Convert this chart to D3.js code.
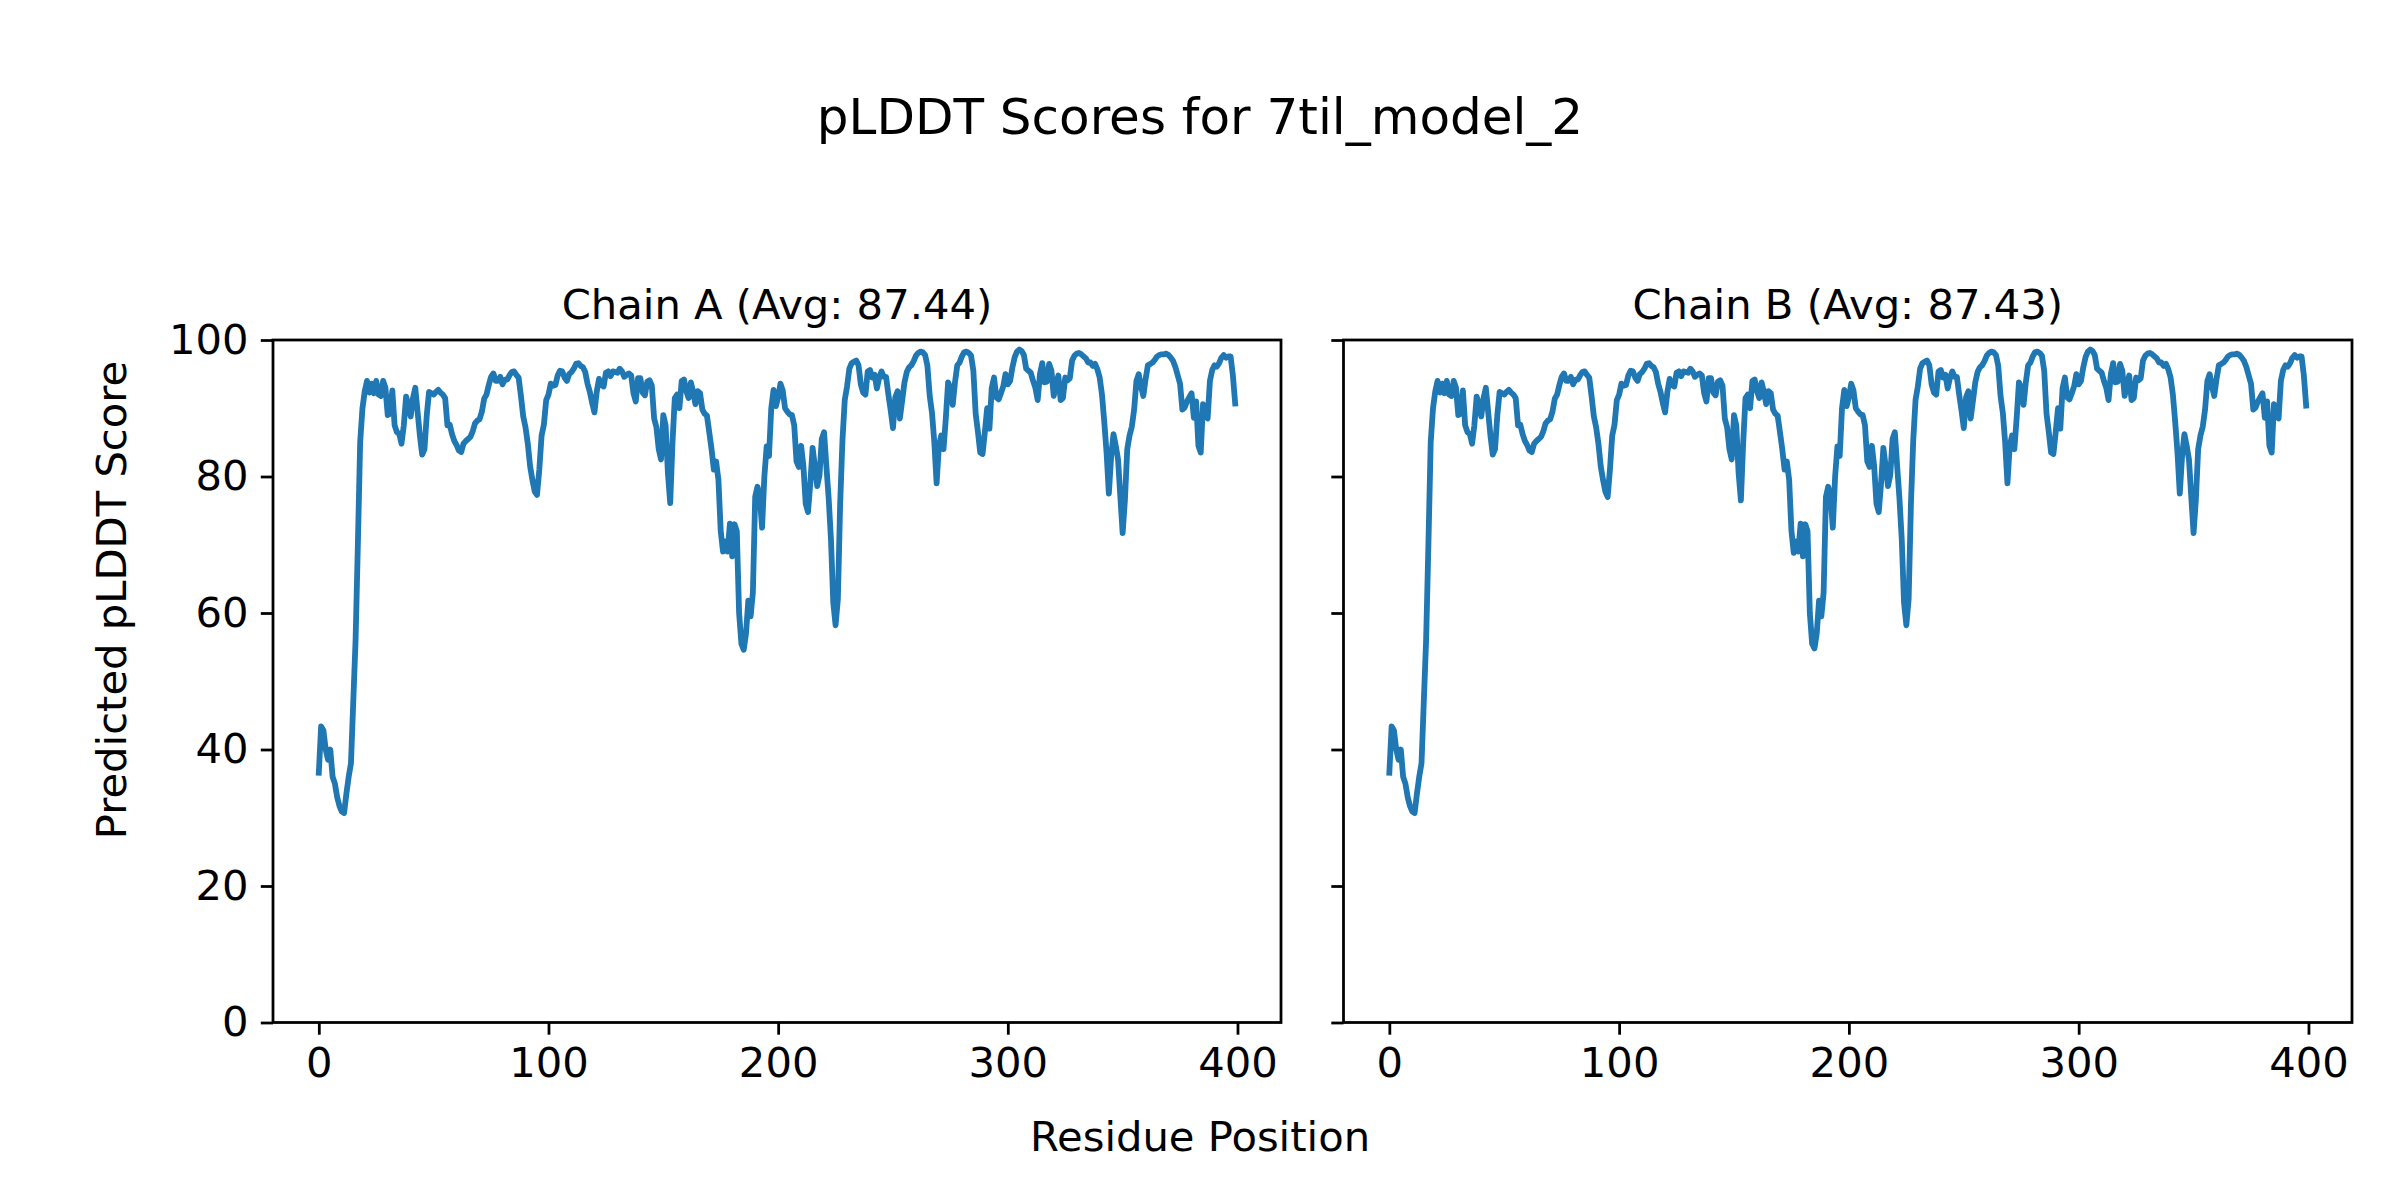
<!DOCTYPE html>
<html>
<head>
<meta charset="utf-8">
<script src="https://cdn.jsdelivr.net/npm/d3@7"></script>
<style>
  html, body { margin: 0; padding: 0; background: #ffffff; }
  svg { display: block; }
  text { font-family: "DejaVu Sans", sans-serif; fill: #000; }
</style>
</head>
<body>
<svg id="chart" width="2400" height="1200"></svg>
<script>
// ---- Data ----
const figureTitle = "pLDDT Scores for 7til_model_2";
const chainNames = ["Chain A", "Chain B"];
const chainAvgs = [87.44, 87.43];
const xLabel = "Residue Position";
const yLabel = "Predicted pLDDT Score";
const xTicks = [0, 100, 200, 300, 400];
const yTicks = [0, 20, 40, 60, 80, 100];

const chainA = [
36.6,43.4,42.8,40,38.5,40,36,35,33,31.7,
30.9,30.7,33.5,36,38,47,56,70,85,90,
92.5,94,92.3,93.6,92.2,94,92,91.8,94,93,
89,89.2,92.6,87.5,86.5,86.3,84.8,87.5,91.7,90.5,
88.8,91.5,93,89.5,86,83.2,84,89,92.4,92.2,
92,92.4,92.7,92.3,92,91.5,87.5,87.6,86.2,85.2,
84.6,83.8,83.6,84.8,85.2,85.5,85.8,86.6,87.8,88.2,
88.4,89.5,91.4,92,93.4,94.6,95.1,94,94,94.6,
93.5,94.2,94.2,94.8,95.3,95.4,94.9,94.5,91.8,88.8,
87.2,84.8,81.5,79.5,77.8,77.3,81,86,87.6,91.2,
92,93.6,93.3,93.4,94.8,95.5,95.4,94.5,94,95,
95.3,95.8,96.5,96.6,96.2,96,95.3,93.6,92.4,90.8,
89.4,92.4,94.3,93.4,93.2,95.2,95.4,94.7,95.4,95.3,
95.2,95.8,95.4,94.6,94.9,95.1,94.8,92.2,91,94.4,
94.4,92.3,91.9,93.9,94.1,93.3,88.5,87.2,84,82.5,
89,87.5,80.5,76.1,85,91.5,92,90,94,94.2,
92.5,91.5,93.8,92.4,90.6,92.5,92.2,89.8,89.2,88.9,
86.5,84,81,82.2,79.5,72,69,70.5,69,73.1,
68.3,73,72,60,55.5,54.6,57,61.8,59.5,63,
77,78.5,77,72.5,80,84.4,83,90,92.7,90.3,
91.6,93.6,92.6,90,89.5,89.1,89,87.5,82.2,81.4,
84.5,81.5,76,74.8,79,84.2,81.5,78.6,80.2,85.5,
86.5,81.5,76.8,70.8,61.5,58.2,62,76,85.3,91.2,
93.2,95.8,96.6,96.8,97,96.3,93.5,92.3,92,95.4,
95.6,94.5,94.9,92.9,94.5,95.4,94.6,94.6,92,89.7,
87.1,91.6,92.5,88.5,91.1,93.8,95.3,96,96.3,96.9,
97.7,98.1,98.3,98.2,97.8,96.2,91.8,89.3,85,79,
84.5,86,84,88.5,93.8,93,90.5,93.8,96.3,96.7,
97.6,98.2,98.3,98.1,97.7,95.5,89.2,86.5,83.5,83.3,
86.5,90,87,93,94.5,91.6,91.3,92.2,93.2,95,
93.5,94,96,97.5,98.3,98.6,98.4,97.8,95.8,95.5,
95.2,94,93,91.2,95,96.6,93.8,93.9,96.5,95.5,
91.8,93.5,94.8,91.2,91.5,94.5,94.1,94.4,97,97.7,
98,98.1,97.9,97.6,97.3,96.7,96.7,96.2,96.5,95.7,
94.5,92,88,83.5,77.5,83,86.2,84.5,82.5,77,
71.7,76.6,84,86,87.3,89.8,94,95,93.2,91.8,
94.3,96.3,96.5,96.7,97.1,97.6,97.8,97.9,97.9,98,
97.8,97.4,96.9,96,94.8,93.6,89.8,90.1,91,91.6,
92.2,88.6,91,84.5,83.5,90.6,89,88.5,94,95.6,
96.3,96.1,96.6,97.4,97.8,97.4,97.6,97.6,94.8,90.7
];

const chainB = [
36.6,43.4,42.8,40,38.5,40,36,35,33,31.7,
30.9,30.7,33.5,36,38,47,56,70,85,90,
92.5,94,92.3,93.6,92.2,94,92,91.8,94,93,
89,89.2,92.6,87.5,86.5,86.3,84.8,87.5,91.7,90.5,
88.8,91.5,93,89.5,86,83.2,84,89,92.4,92.2,
92,92.4,92.7,92.3,92,91.5,87.5,87.6,86.2,85.2,
84.6,83.8,83.6,84.8,85.2,85.5,85.8,86.6,87.8,88.2,
88.4,89.5,91.4,92,93.4,94.6,95.1,94,94,94.6,
93.5,94.2,94.2,94.8,95.3,95.4,94.9,94.5,91.8,88.8,
87.2,84.8,81.5,79.5,77.8,77.0,81,86,87.6,91.2,
92,93.6,93.3,93.4,94.8,95.5,95.4,94.5,94,95,
95.3,95.8,96.5,96.6,96.2,96,95.3,93.6,92.4,90.8,
89.4,92.4,94.3,93.4,93.2,95.2,95.4,94.7,95.4,95.3,
95.2,95.8,95.4,94.6,94.9,95.1,94.8,92.2,91,94.4,
94.4,92.3,91.9,93.9,94.1,93.3,88.5,87.2,84,82.5,
89,87.5,80.5,76.5,85,91.5,92,90,94,94.2,
92.5,91.5,93.8,92.4,90.6,92.5,92.2,89.8,89.2,88.9,
86.5,84,81,82.2,79.5,72,68.8,70.5,69,73.1,
68.3,73,72,60,55.5,54.8,57,61.8,59.5,63,
77,78.5,77,72.5,80,84.4,83,90,92.7,90.3,
91.6,93.6,92.6,90,89.5,89.1,89,87.5,82.2,81.4,
84.5,81.5,76,74.8,79,84.2,81.5,78.6,80.2,85.5,
86.5,81.5,76.8,70.8,61.5,58.2,62,76,85.3,91.2,
93.2,95.8,96.6,96.8,97,96.3,93.5,92.3,92,95.4,
95.6,94.5,94.9,92.9,94.5,95.4,94.6,94.6,92,89.7,
87.1,91.6,92.5,88.5,91.1,93.8,95.3,96,96.3,96.9,
97.7,98.1,98.3,98.2,97.8,96.2,91.8,89.3,85,79,
84.5,86,84,88.5,93.8,93,90.5,93.8,96.3,96.7,
97.6,98.2,98.3,98.1,97.7,95.5,89.2,86.5,83.5,83.3,
86.5,90,87,93,94.5,91.6,91.3,92.2,93.2,95,
93.5,94,96,97.5,98.3,98.6,98.4,97.8,95.8,95.5,
95.2,94,93,91.2,95,96.6,93.8,93.9,96.5,95.5,
91.8,93.5,94.8,91.2,91.5,94.5,94.1,94.4,97,97.7,
98,98.1,97.9,97.6,97.3,96.7,96.7,96.2,96.5,95.7,
94.5,92,88,83.5,77.5,83,86.2,84.5,82.5,77,
71.7,76.6,84,86,87.3,89.8,94,95,93.2,91.8,
94.3,96.3,96.5,96.7,97.1,97.6,97.8,97.9,97.9,98,
97.8,97.4,96.9,96,94.8,93.6,89.8,90.1,91,91.6,
92.2,88.6,91,84.5,83.5,90.6,89,88.5,94,95.6,
96.3,96.1,96.6,97.4,97.8,97.4,97.6,97.6,94.8,90.4
];

const chainSeries = [chainA, chainB];

// ---- Layout ----
const W = 2400, H = 1200;
const panels = [
  { x0: 273, x1: 1281 },
  { x0: 1343.5, x1: 2352 }
];
const yTop = 340, yBottom = 1022.5;
const lineColor = "#1f77b4";
const spineW = 2.78, tickLen = 12.2, tickPad = 12.2;
const tickFont = 41.7, labelFont = 41.7, titleFont = 50;

const svg = d3.select("#chart");
svg.append("rect").attr("width", W).attr("height", H).attr("fill", "#fff");

const yScale = d3.scaleLinear().domain([0, 100]).range([yBottom, yTop]);

panels.forEach((p, i) => {
  const data = chainSeries[i];
  const n = data.length;
  const span = n - 1;
  const xScale = d3.scaleLinear()
    .domain([-0.05 * span, span + 0.05 * span])
    .range([p.x0, p.x1]);

  const g = svg.append("g");

  // line
  const line = d3.line()
    .x((d, k) => xScale(k))
    .y(d => yScale(d));
  g.append("path")
    .datum(data)
    .attr("fill", "none")
    .attr("stroke", lineColor)
    .attr("stroke-width", 5.8)
    .attr("stroke-linejoin", "round")
    .attr("stroke-linecap", "square")
    .attr("d", line);

  // x axis
  const xAxis = d3.axisBottom(xScale)
    .tickValues(xTicks)
    .tickSizeInner(tickLen)
    .tickSizeOuter(0)
    .tickPadding(tickPad)
    .tickFormat(d3.format("d"));
  const xg = g.append("g")
    .attr("transform", `translate(0,${yBottom})`)
    .call(xAxis);
  xg.select(".domain").remove();
  xg.selectAll(".tick line").attr("stroke", "#000").attr("stroke-width", spineW);
  xg.selectAll(".tick text")
    .style("font-family", "'DejaVu Sans', sans-serif")
    .style("font-size", tickFont + "px")
    .attr("fill", "#000");

  // y axis
  const yAxis = d3.axisLeft(yScale)
    .tickValues(yTicks)
    .tickSizeInner(tickLen)
    .tickSizeOuter(0)
    .tickPadding(tickPad)
    .tickFormat(i === 0 ? d3.format("d") : () => "");
  const yg = g.append("g")
    .attr("transform", `translate(${p.x0},0)`)
    .call(yAxis);
  yg.select(".domain").remove();
  yg.selectAll(".tick line").attr("stroke", "#000").attr("stroke-width", spineW);
  yg.selectAll(".tick text")
    .style("font-family", "'DejaVu Sans', sans-serif")
    .style("font-size", tickFont + "px")
    .attr("fill", "#000");

  // spines
  g.append("rect")
    .attr("x", p.x0).attr("y", yTop)
    .attr("width", p.x1 - p.x0).attr("height", yBottom - yTop)
    .attr("fill", "none")
    .attr("stroke", "#000")
    .attr("stroke-width", spineW)
    .attr("stroke-linejoin", "miter");

  // panel title
  g.append("text")
    .attr("x", (p.x0 + p.x1) / 2)
    .attr("y", yTop - 20.8)
    .attr("text-anchor", "middle")
    .style("font-size", labelFont + "px")
    .text(`${chainNames[i]} (Avg: ${chainAvgs[i].toFixed(2)})`);
});

// figure title
svg.append("text")
  .attr("x", W / 2).attr("y", 134)
  .attr("text-anchor", "middle")
  .style("font-size", titleFont + "px")
  .text(figureTitle);

// shared x label
svg.append("text")
  .attr("x", W / 2).attr("y", 1151)
  .attr("text-anchor", "middle")
  .style("font-size", labelFont + "px")
  .text(xLabel);

// shared y label
svg.append("text")
  .attr("transform", `translate(126,${H / 2}) rotate(-90)`)
  .attr("text-anchor", "middle")
  .style("font-size", labelFont + "px")
  .text(yLabel);
</script>
</body>
</html>
